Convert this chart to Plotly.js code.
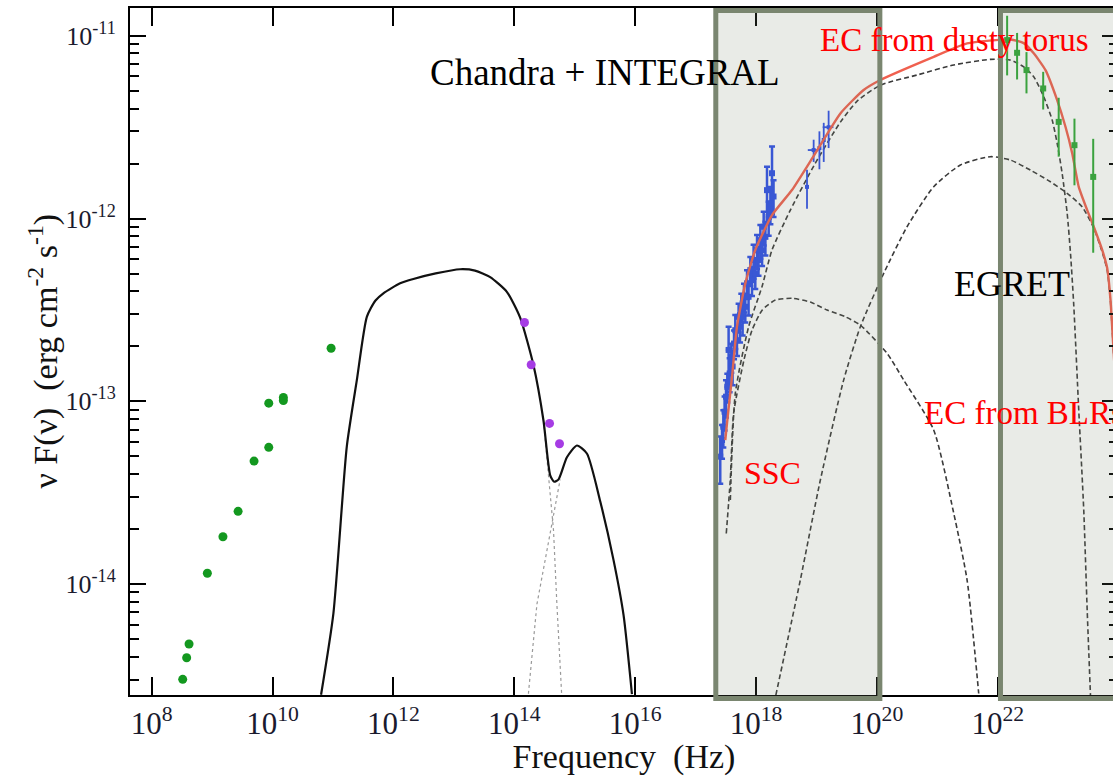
<!DOCTYPE html>
<html>
<head>
<meta charset="utf-8">
<script src="https://cdn.plot.ly/plotly-3.0.1.min.js"></script>
<style>
html, body { margin: 0; padding: 0; overflow: hidden; background: #fff; }
#chart { width: 1125px; height: 776px; }
</style>
</head>
<body>
<div id="chart"></div>
<script>
// ---------- data (Hz, erg cm^-2 s^-1) ----------
// radio (green dots)
const nuRadio   = [3.26e8, 3.79e8, 4.15e8, 8.34e8, 1.51e9, 2.69e9, 4.94e9, 8.65e9, 8.65e9, 1.51e10, 1.51e10, 9.31e10];
const fluxRadio = [3.01e-15, 3.95e-15, 4.70e-15, 1.146e-14, 1.815e-14, 2.50e-14, 4.71e-14, 5.60e-14, 9.77e-14, 1.05e-13, 1.01e-13, 1.95e-13];

// optical / UV (purple dots)
const nuOpt   = [1.476e14, 1.905e14, 3.83e14, 5.60e14];
const fluxOpt = [2.70e-13, 1.585e-13, 7.57e-14, 5.86e-14];

// synchrotron + disk model (solid black)
const nuSync   = [6.35e10, 1.016e11, 1.69e11, 2.48e11, 3.63e11, 5.01e11, 6.82e11, 1.29e12, 2.14e12, 5.01e12, 1.27e13, 2.24e13, 3.99e13, 7.53e13, 1.25e14, 2.08e14, 3.04e14, 3.93e14, 4.57e14, 5.40e14, 7.43e14, 1.087e15, 1.59e15, 2.64e15, 4.39e15, 6.43e15, 8.85e15];
const fluxSync = [2.48e-15, 6.92e-15, 5.64e-14, 1.306e-13, 2.90e-13, 3.55e-13, 3.90e-13, 4.42e-13, 4.67e-13, 5.01e-13, 5.28e-13, 5.19e-13, 4.78e-13, 3.97e-13, 2.87e-13, 1.574e-13, 7.85e-14, 3.93e-14, 3.63e-14, 3.74e-14, 4.94e-14, 5.73e-14, 5.18e-14, 2.84e-14, 1.352e-14, 6.76e-15, 2.50e-15];

// dotted components near 1e14.5 Hz
const nuSyncTail   = [3.04e14, 3.47e14, 4.46e14, 5.07e14, 6.14e14, 6.3e14];
const fluxSyncTail = [7.85e-14, 4.94e-14, 1.96e-14, 7.76e-15, 2.55e-15, 2.0e-15];
const nuDisk   = [1.66e14, 1.72e14, 2.37e14, 3.93e14, 5.75e14];
const fluxDisk = [2.0e-15, 2.55e-15, 7.76e-15, 1.96e-14, 3.74e-14];

// Chandra X-ray (blue)
const nuChandra   = [2.56e17, 2.74e17, 2.88e17, 3.02e17, 3.19e17, 3.35e17, 3.52e17, 3.66e17, 3.90e17, 4.10e17, 4.33e17, 4.54e17, 4.84e17, 5.15e17, 5.43e17, 5.71e17, 6.00e17, 6.32e17, 6.65e17, 7.10e17, 7.53e17, 8.05e17, 8.59e17, 9.12e17, 9.73e17, 1.04e18, 1.10e18, 1.18e18, 1.26e18, 1.34e18, 1.43e18, 1.52e18, 1.62e18, 1.73e18, 1.84e18, 1.95e18];
const fluxChandra = [4.98e-14, 6.14e-14, 7.26e-14, 8.77e-14, 1.06e-13, 1.20e-13, 1.91e-13, 1.42e-13, 1.75e-13, 1.55e-13, 2.07e-13, 2.45e-13, 2.16e-13, 2.90e-13, 2.56e-13, 3.29e-13, 2.90e-13, 3.73e-13, 3.29e-13, 4.42e-13, 3.73e-13, 5.22e-13, 4.60e-13, 5.93e-13, 5.01e-13, 6.71e-13, 5.93e-13, 7.62e-13, 6.71e-13, 9.02e-13, 7.94e-13, 1.43e-12, 1.02e-12, 1.21e-12, 1.77e-12, 1.32e-12];
const errChandra  = [1.44e-14, 1.29e-14, 1.67e-14, 1.84e-14, 2.44e-14, 2.16e-14, 6.5e-14, 2.98e-14, 3.15e-14, 3.26e-14, 3.73e-14, 5.15e-14, 3.89e-14, 5.22e-14, 4.61e-14, 5.92e-14, 6.09e-14, 6.71e-14, 5.92e-14, 7.96e-14, 7.83e-14, 9.4e-14, 8.28e-14, 1.25e-13, 9.0e-14, 1.41e-13, 1.07e-13, 1.6e-13, 1.21e-13, 1.89e-13, 1.67e-13, 4.9e-13, 2.14e-13, 2.8e-13, 7.1e-13, 3.0e-13];

// INTEGRAL (blue)
const nuIntegral    = [6.98e18, 8.99e18, 1.12e19, 1.32e19, 1.59e19];
const fluxIntegral  = [1.49e-12, 2.37e-12, 2.43e-12, 2.69e-12, 3.16e-12];
const errIntegral   = [3.6e-13, 3.3e-13, 5.7e-13, 6.5e-13, 7.3e-13];
const nuErrIntegral = [3e17, 1.8e18, 4e17, 5e17, 3.2e18];

// EGRET (green squares)
const nuEgret   = [1.43e22, 2.09e22, 2.99e22, 5.65e22, 1.02e23, 1.86e23, 3.80e23];
const fluxEgret = [9.47e-12, 8.07e-12, 6.49e-12, 5.15e-12, 3.38e-12, 2.52e-12, 1.69e-12];
const errEgret  = [3.4e-12, 2.3e-12, 1.65e-12, 1.2e-12, 1.2e-12, 1.0e-12, 1.04e-12];

// model components (dashed) and total (red)
const nuSSC   = [3.22e17, 3.75e17, 4.26e17, 6.32e17, 8.59e17, 1.27e18, 2.09e18, 3.94e18, 7.93e18, 1.496e19, 3.01e19, 5.33e19, 1.476e20, 2.78e20, 8.71e20, 1.87e21, 3.11e21, 4.84e21];
const fluxSSC = [1.89e-14, 3.71e-14, 8.59e-14, 1.683e-13, 2.45e-13, 3.16e-13, 3.58e-13, 3.66e-13, 3.49e-13, 3.16e-13, 2.90e-13, 2.61e-13, 1.828e-13, 1.306e-13, 6.97e-14, 2.44e-14, 1.052e-14, 2.52e-15];

const nuTorus   = [3.76e17, 4.54e17, 7.55e17, 1.256e18, 1.84e18, 3.70e18, 9.59e18, 2.49e19, 4.75e19, 1.143e20, 4.63e20, 1.87e21, 7.57e21, 1.622e22, 2.69e22, 3.94e22, 5.78e22, 7.96e22, 9.62e22, 1.164e23, 1.41e23, 1.60e23, 1.81e23, 2.19e23, 2.65e23, 3.02e23, 3.43e23];
const fluxTorus = [2.88e-14, 1.104e-13, 2.56e-13, 4.24e-13, 6.73e-13, 1.112e-12, 2.01e-12, 3.37e-12, 4.40e-12, 5.37e-12, 6.10e-12, 6.92e-12, 7.43e-12, 7.36e-12, 6.76e-12, 5.97e-12, 4.63e-12, 3.46e-12, 2.58e-12, 1.766e-12, 1.067e-12, 6.44e-13, 3.37e-13, 8.95e-14, 2.54e-14, 7.21e-15, 2.42e-15];

const nuBLR   = [2.13e18, 5.41e18, 1.161e19, 2.82e19, 5.33e19, 1.297e20, 3.16e20, 8.71e20, 2.41e21, 7.57e21, 1.622e22, 3.48e22, 7.45e22, 1.41e23, 2.49e23, 3.88e23, 5.35e23, 6.47e23, 7.35e23, 8.24e23, 9.95e23];
const fluxBLR = [2.47e-15, 1.052e-14, 3.71e-14, 1.306e-13, 2.56e-13, 5.01e-13, 9.02e-13, 1.493e-12, 1.963e-12, 2.18e-12, 2.09e-12, 1.84e-12, 1.589e-12, 1.374e-12, 1.159e-12, 8.87e-13, 6.56e-13, 5.22e-13, 3.49e-13, 1.858e-13, 6.78e-14];

const nuTotal   = [3.10e17, 3.31e17, 4.01e17, 4.84e17, 6.65e17, 9.73e17, 1.84e18, 3.94e18, 8.55e18, 2.49e19, 6.04e19, 1.143e20, 8.71e20, 3.11e21, 1.622e22, 2.69e22, 3.94e22, 6.17e22, 9.62e22, 1.321e23, 1.706e23, 2.19e23, 3.02e23, 3.88e23, 5.35e23, 6.47e23, 7.35e23, 8.24e23, 9.95e23];
const fluxTotal = [6.14e-14, 7.57e-14, 1.36e-13, 2.56e-13, 4.42e-13, 6.73e-13, 1.045e-12, 1.432e-12, 2.14e-12, 3.76e-12, 5.05e-12, 5.73e-12, 7.67e-12, 9.08e-12, 9.55e-12, 9.12e-12, 8.02e-12, 6.49e-12, 4.45e-12, 3.18e-12, 2.28e-12, 1.49e-12, 1.112e-12, 9.02e-13, 6.73e-13, 5.36e-13, 3.58e-13, 1.905e-13, 6.95e-14];

// shaded observation bands (Hz)
const bandChandra = [2.16e17, 1.12e20];
const bandEgret   = [1.11e22, 1e24];

// tick labels
const xTickVals = [1e8, 1e10, 1e12, 1e14, 1e16, 1e18, 1e20, 1e22];
const xTickText = ['10<sup>8</sup>', '10<sup>10</sup>', '10<sup>12</sup>', '10<sup>14</sup>', '10<sup>16</sup>', '10<sup>18</sup>', '10<sup>20</sup>', '10<sup>22</sup>'];
const yTickVals = [1e-14, 1e-13, 1e-12, 1e-11];
const yTickText = ['10<sup>-14</sup>', '10<sup>-13</sup>', '10<sup>-12</sup>', '10<sup>-11</sup>'];

// ---------- styles ----------
const SERIF = '"Liberation Serif", "Times New Roman", serif';
const dashStyle = {color: '#3a3a3a', width: 1.6, dash: '5px,3px'};

const traces = [
  {x: nuDisk, y: fluxDisk, mode: 'lines', line: {color: '#9a9a9a', width: 1.2, dash: 'dot'}},
  {x: nuSyncTail, y: fluxSyncTail, mode: 'lines', line: {color: '#9a9a9a', width: 1.2, dash: 'dot'}},
  {x: nuSync, y: fluxSync, mode: 'lines', line: {color: '#111', width: 2.2, shape: 'spline', smoothing: 0.6}},
  {x: nuSSC, y: fluxSSC, mode: 'lines', line: Object.assign({shape: 'spline', smoothing: 0.6}, dashStyle)},
  {x: nuBLR, y: fluxBLR, mode: 'lines', line: Object.assign({shape: 'spline', smoothing: 0.6}, dashStyle)},
  {x: nuTorus, y: fluxTorus, mode: 'lines', line: Object.assign({shape: 'spline', smoothing: 0.6}, dashStyle)},
  {x: nuChandra, y: fluxChandra, mode: 'markers',
   marker: {color: '#2c4de8', size: 6, symbol: 'square'},
   error_y: {type: 'data', array: errChandra, color: '#2c4de8', thickness: 2.5, width: 3},
   error_x: {type: 'percent', value: 10, color: '#2c4de8', thickness: 2.5, width: 0}},
  {x: nuIntegral, y: fluxIntegral, mode: 'markers',
   marker: {color: '#2c4de8', size: 4, symbol: 'square'},
   error_y: {type: 'data', array: errIntegral, color: '#2c4de8', thickness: 1.8, width: 0},
   error_x: {type: 'data', array: nuErrIntegral, color: '#2c4de8', thickness: 1.8, width: 0}},
  {x: nuTotal, y: fluxTotal, mode: 'lines', line: {color: '#f0604f', width: 2.4, shape: 'spline', smoothing: 0.5}},
  {x: nuEgret, y: fluxEgret, mode: 'markers',
   marker: {color: '#2ea836', size: 6, symbol: 'square'},
   error_y: {type: 'data', array: errEgret, color: '#2ea836', thickness: 2, width: 0}},
  {x: nuRadio, y: fluxRadio, mode: 'markers', marker: {color: '#13981f', size: 9}},
  {x: nuOpt, y: fluxOpt, mode: 'markers', marker: {color: '#a63ce4', size: 9}}
];

function band(b) {
  return {type: 'rect', xref: 'x', yref: 'paper', x0: b[0], x1: b[1], y0: -0.005, y1: 0.9964,
          layer: 'above', fillcolor: 'rgba(122,134,112,0.17)', line: {color: '#7a8670', width: 5}};
}

function lab(text, x, y, color, size) {
  return {text: text, x: Math.log10(x), y: Math.log10(y), xref: 'x', yref: 'y',
          xanchor: 'left', yanchor: 'middle', showarrow: false,
          font: {family: SERIF, size: size, color: color}};
}

const layout = {
  width: 1125, height: 776,
  margin: {l: 130, r: 7, t: 8, b: 81},
  paper_bgcolor: '#fff', plot_bgcolor: '#fff',
  showlegend: false,
  font: {family: SERIF, color: '#1a1a2e'},
  xaxis: {
    type: 'log', range: [7.641, 23.99],
    tickvals: xTickVals, ticktext: xTickText,
    ticks: 'inside', ticklen: 18, tickwidth: 2, tickcolor: '#000',
    showline: true, linewidth: 2, linecolor: '#000', mirror: 'ticks',
    showgrid: false, zeroline: false,
    tickfont: {family: SERIF, size: 31, color: '#1a1a2e'},
    ticklabelstandoff: 0,
    title: {text: 'Frequency  (Hz)', font: {family: SERIF, size: 34, color: '#111'}, standoff: 2}
  },
  yaxis: {
    type: 'log', range: [-14.607, -10.848],
    tickvals: yTickVals, ticktext: yTickText,
    ticks: 'inside', ticklen: 16, tickwidth: 2, tickcolor: '#000',
    minor: {ticks: 'inside', ticklen: 9, tickwidth: 2, tickcolor: '#000', dtick: 'D1', showgrid: false},
    showline: true, linewidth: 2, linecolor: '#000', mirror: 'ticks',
    showgrid: false, zeroline: false,
    tickfont: {family: SERIF, size: 26, color: '#1a1a2e'},
    ticklabelstandoff: 7
  },
  shapes: [band(bandChandra), band(bandEgret)],
  annotations: [
    {text: '\u03bd F(\u03bd)  (erg cm<sup>-2</sup> s<sup>-1</sup>)', xref: 'paper', yref: 'paper',
     x: -0.088, y: 0.5, xanchor: 'center', yanchor: 'middle', textangle: -90, showarrow: false,
     font: {family: SERIF, size: 34, color: '#111'}},
    lab('Chandra + INTEGRAL', 3.75e12, 6.32e-12, '#000', 37),
    lab('EC from dusty torus', 1.07e19, 9.46e-12, '#ff0000', 33),
    lab('EGRET', 1.78e21, 4.39e-13, '#000', 36),
    lab('EC from BLRs', 5.66e20, 8.63e-14, '#ff0000', 33),
    lab('SSC', 5.93e17, 4.06e-14, '#ff0000', 32)
  ]
};

Plotly.newPlot('chart', traces, layout, {displayModeBar: false, staticPlot: true});
</script>
</body>
</html>
